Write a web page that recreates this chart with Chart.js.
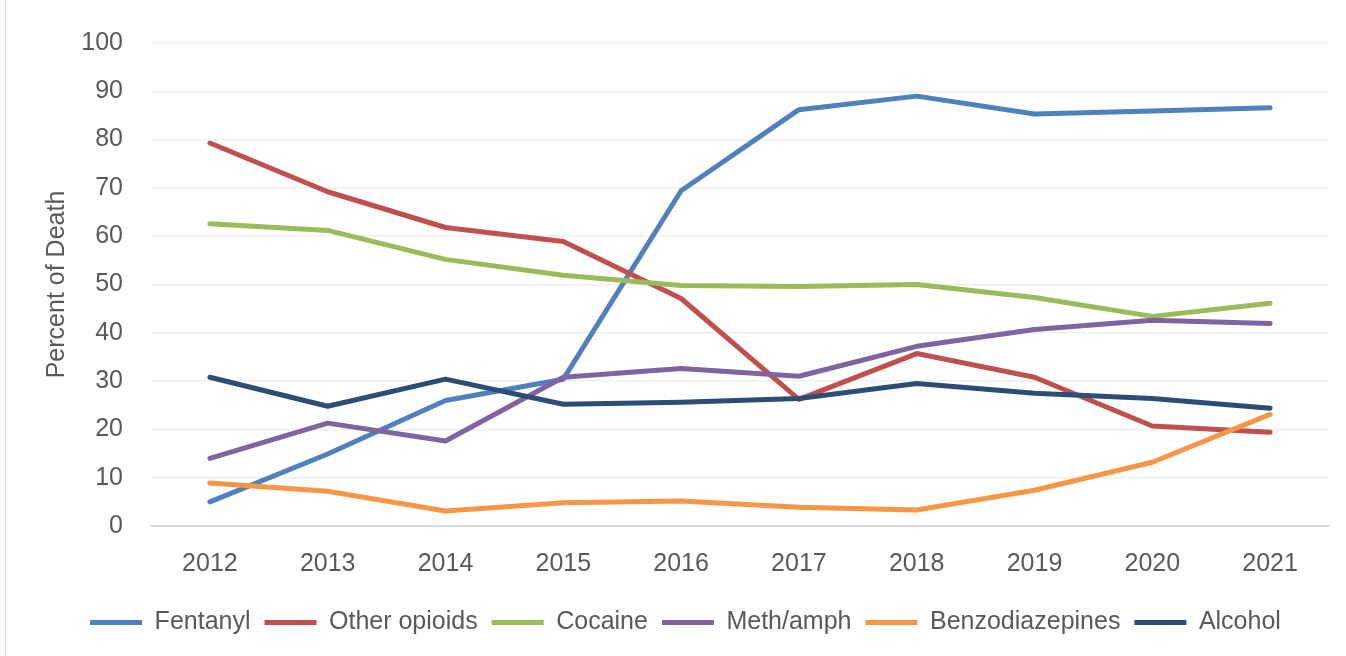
<!DOCTYPE html>
<html>
<head>
<meta charset="utf-8">
<script src="https://cdn.jsdelivr.net/npm/chart.js@4/dist/chart.umd.min.js"></script>
<style>
  html, body { margin: 0; padding: 0; background: #fff; }
  #wrap { width: 1346px; height: 656px; position: relative; }
</style>
</head>
<body>
<div id="wrap"><canvas id="chart"></canvas></div>
<script>
// data
const years = ["2012", "2013", "2014", "2015", "2016", "2017", "2018", "2019", "2020", "2021"];
const fentanyl = [5.0, 14.9, 26.0, 30.4, 69.4, 86.2, 89.0, 85.3, 85.9, 86.6];
const otherOpioids = [79.3, 69.2, 61.8, 58.9, 47.1, 26.2, 35.7, 30.8, 20.7, 19.4];
const cocaine = [62.6, 61.2, 55.2, 51.9, 49.8, 49.6, 50.0, 47.3, 43.4, 46.1];
const methAmph = [14.0, 21.3, 17.6, 30.8, 32.6, 31.0, 37.2, 40.7, 42.6, 41.9];
const benzos = [8.9, 7.2, 3.1, 4.8, 5.2, 3.9, 3.3, 7.4, 13.2, 23.1];
const alcohol = [30.8, 24.8, 30.4, 25.2, 25.6, 26.4, 29.5, 27.5, 26.4, 24.4];
const yTicks = [0, 10, 20, 30, 40, 50, 60, 70, 80, 90, 100];

const seriesNames = ["Fentanyl", "Other opioids", "Cocaine", "Meth/amph", "Benzodiazepines", "Alcohol"];
const seriesData = [fentanyl, otherOpioids, cocaine, methAmph, benzos, alcohol];
const seriesColors = ["#4F81BD", "#C0504D", "#9BBB59", "#8064A2", "#F79646", "#2C4D75"];

const FONT = "'Liberation Sans', Arial, sans-serif";
const TEXT = "#595959";

// thin frame line on the left edge, like the exported chart box
const frameLine = {
    id: "frameLine",
    beforeDraw(chart) {
        const ctx = chart.ctx;
        ctx.save();
        ctx.strokeStyle = "#d9d9d9";
        ctx.lineWidth = 1.5;
        ctx.beginPath();
        ctx.moveTo(5.5, 0);
        ctx.lineTo(5.5, chart.height);
        ctx.stroke();
        ctx.restore();
    },
};

const datasets = seriesNames.map((name, i) => ({
    label: name,
    data: seriesData[i],
    borderColor: seriesColors[i],
    backgroundColor: seriesColors[i],
    borderWidth: 5,
    borderCapStyle: "round",
    borderJoinStyle: "round",
    pointRadius: 0,
    pointStyle: "line",
    tension: 0,
    fill: false,
    // later series sit on top, as in the original
    order: seriesNames.length - i,
}));

new Chart(document.getElementById("chart"), {
    type: "line",
    data: { labels: years, datasets: datasets },
    plugins: [frameLine],
    options: {
        responsive: true,
        maintainAspectRatio: false,
        animation: false,
        layout: { padding: { left: 42, right: 17, top: 41, bottom: 11 } },
        plugins: {
            tooltip: { enabled: false },
            legend: {
                position: "bottom",
                labels: {
                    color: TEXT,
                    font: { family: FONT, size: 25 },
                    usePointStyle: true,
                    pointStyleWidth: 52,
                    padding: 14,
                    sort: (a, b) => a.datasetIndex - b.datasetIndex,
                },
            },
        },
        scales: {
            x: {
                offset: true,
                grid: { display: false, drawTicks: false },
                border: { color: "#d9d9d9", width: 2 },
                ticks: {
                    color: TEXT,
                    font: { family: FONT, size: 25 },
                    padding: 23,
                    maxRotation: 0,
                },
                afterFit: (scale) => {
                    scale.height -= 6;
                },
            },
            y: {
                min: 0,
                max: 100,
                afterBuildTicks: (scale) => {
                    scale.ticks = yTicks.map((v) => ({ value: v }));
                },
                afterFit: (scale) => {
                    scale.width = 109;
                },
                grid: { color: "#efefef", lineWidth: 1.5, drawTicks: false },
                border: { display: false },
                ticks: {
                    color: TEXT,
                    font: { family: FONT, size: 25 },
                    padding: 28,
                },
                title: {
                    display: true,
                    text: "Percent of Death",
                    color: TEXT,
                    font: { family: FONT, size: 25 },
                    padding: { top: 0, bottom: 10 },
                },
            },
        },
    },
});
</script>
</body>
</html>
